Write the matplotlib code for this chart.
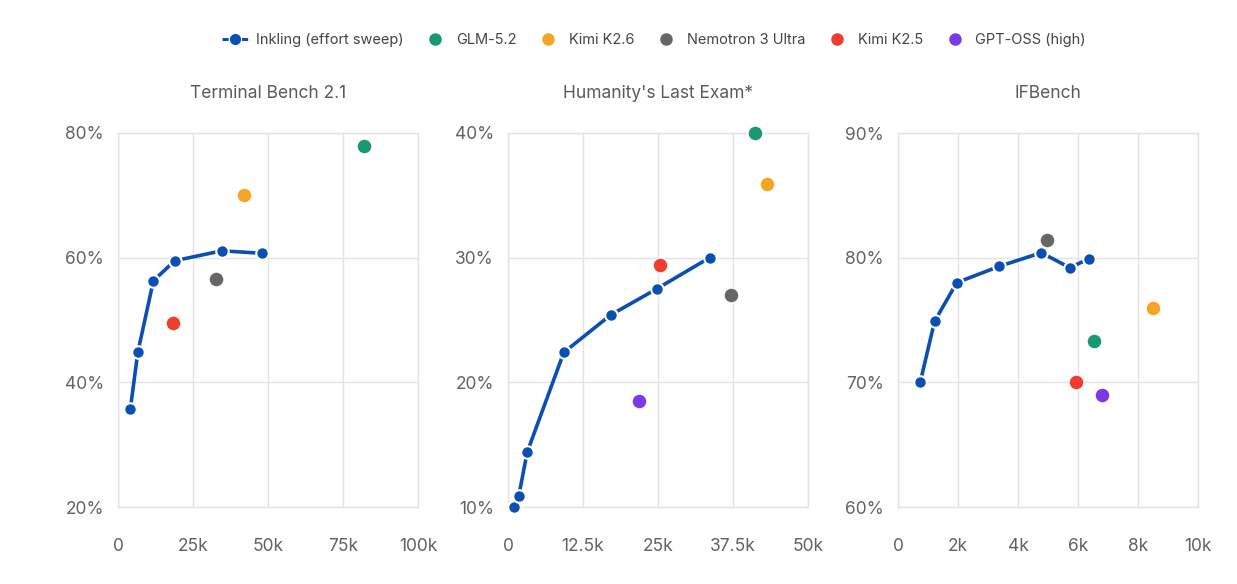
import matplotlib
matplotlib.use("Agg")
import matplotlib.pyplot as plt
from matplotlib.lines import Line2D
from matplotlib.ticker import FuncFormatter

plt.rcParams['font.family'] = ['Inter', 'DejaVu Sans']

titles = ["Terminal Bench 2.1", "Humanity's Last Exam*", "IFBench"]

# Inkling effort sweep (tokens in k, score in %)
ink_x = [
    [4.1, 6.6, 11.8, 18.9, 34.6, 48.1],
    [1.06, 1.8, 3.2, 9.3, 17.1, 24.8, 33.6],
    [0.74, 1.22, 1.96, 3.37, 4.78, 5.72, 6.36],
]
ink_y = [
    [35.7, 44.8, 56.3, 59.5, 61.1, 60.7],
    [10.0, 10.9, 14.4, 22.4, 25.4, 27.5, 30.0],
    [70.0, 74.9, 78.0, 79.3, 80.4, 79.2, 79.9],
]

models = ["GLM-5.2", "Kimi K2.6", "Nemotron 3 Ultra", "Kimi K2.5", "GPT-OSS (high)"]
colors = ["#179a6e", "#f5a524", "#666666", "#f23d2e", "#7b3ae6"]
# per panel: x (k tokens), y (%) ; None = absent
model_x = [
    [82.0, 42.0, 32.7, 18.4, None],
    [41.1, 43.1, 37.1, 25.3, 21.9],
    [6.54, 8.5, 4.96, 5.94, 6.8],
]
model_y = [
    [77.9, 70.1, 56.5, 49.5, None],
    [40.0, 35.9, 27.0, 29.4, 18.5],
    [73.3, 76.0, 81.4, 70.0, 69.0],
]

xlims = [(0, 100), (0, 50), (0, 10)]
xticks = [[0, 25, 50, 75, 100], [0, 12.5, 25, 37.5, 50], [0, 2, 4, 6, 8, 10]]
ylims = [(20, 80), (10, 40), (60, 90)]
yticks = [[20, 40, 60, 80], [10, 20, 30, 40], [60, 70, 80, 90]]

ink_color = "#0b4fb3"
grid_c = "#e3e3e3"
txt_c = "#626262"

fig = plt.figure(figsize=(12.37, 5.84), dpi=100)
lefts = [118 / 1237, 508 / 1237, 898 / 1237]
W = 300 / 1237
B = 1 - 507 / 584
H = (507 - 133) / 584


def kfmt(v, pos):
    if v == 0:
        return "0"
    s = ("%g" % v)
    return s + "k"


for i in range(3):
    ax = fig.add_axes([lefts[i], B, W, H])
    ax.set_xlim(*xlims[i])
    ax.set_ylim(*ylims[i])
    ax.set_xticks(xticks[i])
    ax.set_yticks(yticks[i])
    ax.xaxis.set_major_formatter(FuncFormatter(kfmt))
    ax.yaxis.set_major_formatter(FuncFormatter(lambda v, p: "%d%%" % v))
    ax.grid(True, color=grid_c, linewidth=1)
    ax.set_axisbelow(True)
    for sp in ax.spines.values():
        sp.set_color(grid_c)
        sp.set_linewidth(1)
    ax.tick_params(length=0, labelsize=12.5, colors=txt_c)
    ax.tick_params(axis="y", pad=10)
    ax.tick_params(axis="x", pad=22)
    ax.set_title(titles[i], fontsize=12.5, color="#5a5a5a", pad=25)

    ax.plot(ink_x[i], ink_y[i], color=ink_color, linewidth=2.6, marker="o",
            markersize=9, markerfacecolor=ink_color, markeredgecolor="white",
            markeredgewidth=1.5, zorder=3, clip_on=False)
    for j in range(len(models)):
        if model_x[i][j] is None:
            continue
        ax.scatter([model_x[i][j]], [model_y[i][j]], s=120, color=colors[j],
                   edgecolors="white", linewidths=1.2, zorder=4, clip_on=False)

handles = [Line2D([0], [0], color=ink_color, linewidth=2.2, linestyle=(0, (2, 1.2)),
                  marker="o", markersize=7, markerfacecolor=ink_color,
                  markeredgecolor=ink_color)]
for j in range(len(models)):
    handles.append(Line2D([0], [0], linestyle="none", marker="o", markersize=8,
                          markerfacecolor=colors[j], markeredgecolor=colors[j]))
labels = ["Inkling (effort sweep)"] + models
fig.legend(handles, labels, loc="center", bbox_to_anchor=(654 / 1237, 1 - 40 / 584),
           ncol=6, frameon=False, fontsize=10.5, handlelength=1.8,
           handletextpad=0.5, columnspacing=1.3, labelcolor="#444444")

fig.savefig("out.png", dpi=100)
